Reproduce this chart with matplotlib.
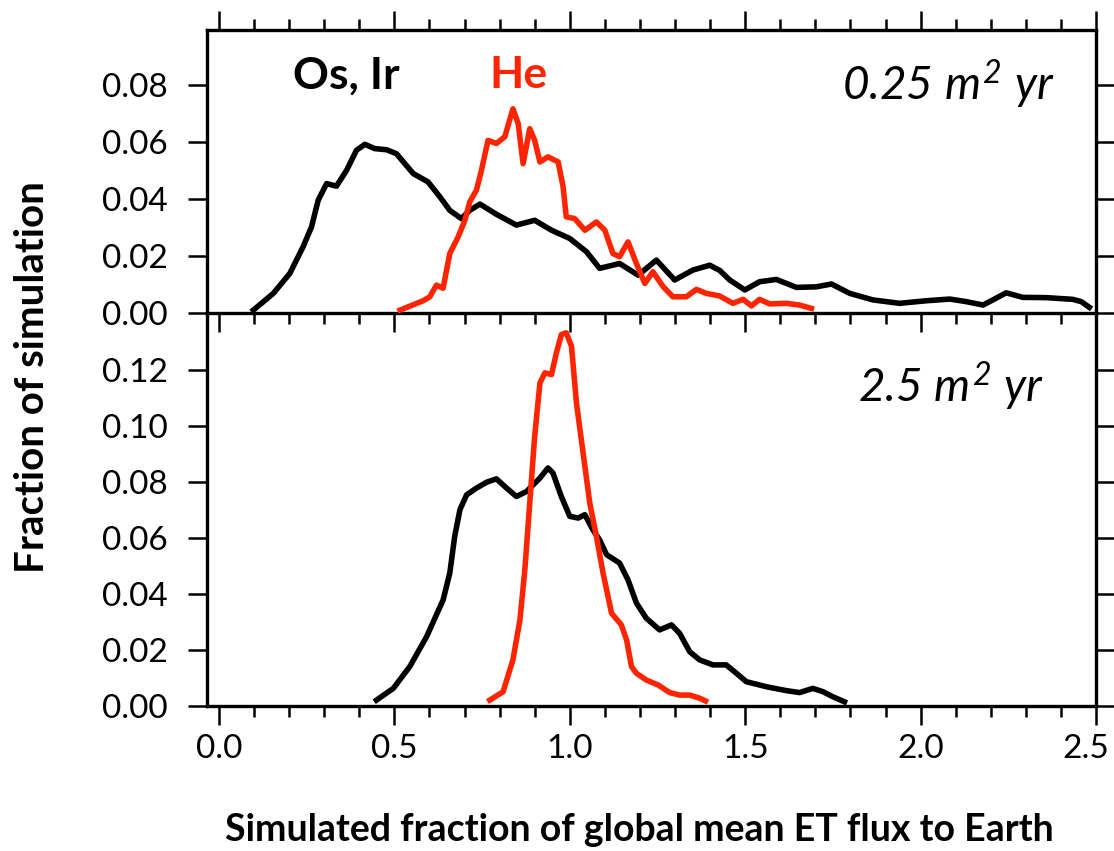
import matplotlib
matplotlib.use('Agg')
import matplotlib.pyplot as plt
import matplotlib.transforms as mtransforms
from matplotlib.ticker import MultipleLocator, FixedLocator, FormatStrFormatter

plt.rcParams['font.family'] = ['Lato', 'DejaVu Sans']
plt.rcParams['mathtext.fontset'] = 'custom'
plt.rcParams['mathtext.it'] = 'Lato:italic'
plt.rcParams['mathtext.rm'] = 'Lato:italic'

# ---------------- data ----------------
top_osir_x = [0.098, 0.155, 0.202, 0.240, 0.264, 0.283, 0.307, 0.335, 0.364, 0.392,
              0.416, 0.444, 0.478, 0.506, 0.530, 0.554, 0.596, 0.630, 0.658, 0.691,
              0.715, 0.744, 0.791, 0.848, 0.900, 0.948, 1.000, 1.048, 1.085, 1.142,
              1.195, 1.247, 1.299, 1.351, 1.399, 1.427, 1.456, 1.499, 1.541, 1.589,
              1.646, 1.703, 1.746, 1.798, 1.864, 1.940, 2.016, 2.083, 2.130, 2.178,
              2.206, 2.244, 2.291, 2.358, 2.434, 2.458, 2.481]
top_osir_y = [0.0010, 0.0069, 0.0139, 0.0233, 0.0303, 0.0397, 0.0455, 0.0446, 0.0502, 0.0572,
              0.0593, 0.0578, 0.0574, 0.0560, 0.0525, 0.0490, 0.0461, 0.0408, 0.0361, 0.0332,
              0.0361, 0.0383, 0.0347, 0.0309, 0.0326, 0.0291, 0.0262, 0.0215, 0.0157, 0.0174,
              0.0133, 0.0186, 0.0116, 0.0151, 0.0168, 0.0150, 0.0116, 0.0081, 0.0110, 0.0118,
              0.0090, 0.0092, 0.0102, 0.0069, 0.0046, 0.0034, 0.0043, 0.0049, 0.0040, 0.0028,
              0.0046, 0.0071, 0.0055, 0.0054, 0.0048, 0.0040, 0.0020]

top_he_x = [0.516, 0.582, 0.601, 0.620, 0.639, 0.658, 0.682, 0.701, 0.715, 0.734,
            0.748, 0.767, 0.791, 0.815, 0.838, 0.853, 0.867, 0.886, 0.900, 0.915,
            0.938, 0.967, 0.981, 0.990, 1.014, 1.043, 1.076, 1.100, 1.123, 1.142,
            1.166, 1.190, 1.214, 1.237, 1.266, 1.294, 1.332, 1.361, 1.389, 1.427,
            1.465, 1.494, 1.518, 1.541, 1.570, 1.617, 1.655, 1.689]
top_he_y = [0.0010, 0.0043, 0.0057, 0.0098, 0.0087, 0.0209, 0.0268, 0.0326, 0.0391, 0.0432,
            0.0500, 0.0607, 0.0596, 0.0620, 0.0718, 0.0666, 0.0525, 0.0648, 0.0607, 0.0531,
            0.0549, 0.0531, 0.0444, 0.0338, 0.0332, 0.0291, 0.0320, 0.0291, 0.0209, 0.0198,
            0.0250, 0.0174, 0.0104, 0.0145, 0.0093, 0.0057, 0.0057, 0.0083, 0.0069, 0.0060,
            0.0034, 0.0048, 0.0025, 0.0048, 0.0032, 0.0034, 0.0028, 0.0016]

bot_osir_x = [0.449, 0.497, 0.544, 0.592, 0.639, 0.658, 0.672, 0.687, 0.706, 0.734,
              0.763, 0.791, 0.820, 0.848, 0.877, 0.915, 0.938, 0.952, 0.976, 1.000,
              1.024, 1.043, 1.066, 1.085, 1.105, 1.142, 1.166, 1.190, 1.218, 1.256,
              1.290, 1.313, 1.342, 1.370, 1.408, 1.446, 1.475, 1.503, 1.560, 1.617,
              1.655, 1.693, 1.722, 1.750, 1.783]
bot_osir_y = [0.0021, 0.0063, 0.0141, 0.0248, 0.0379, 0.0475, 0.0606, 0.0702, 0.0755, 0.0779,
              0.0800, 0.0812, 0.0779, 0.0749, 0.0767, 0.0815, 0.0851, 0.0833, 0.0749, 0.0678,
              0.0672, 0.0684, 0.0630, 0.0594, 0.0541, 0.0511, 0.0451, 0.0368, 0.0314, 0.0272,
              0.0290, 0.0260, 0.0194, 0.0165, 0.0147, 0.0147, 0.0117, 0.0087, 0.0069, 0.0055,
              0.0048, 0.0063, 0.0051, 0.0033, 0.0015]

bot_he_x = [0.772, 0.810, 0.838, 0.858, 0.872, 0.886, 0.900, 0.915, 0.929, 0.948,
            0.962, 0.976, 0.990, 1.005, 1.019, 1.038, 1.057, 1.076, 1.095, 1.119,
            1.147, 1.162, 1.176, 1.190, 1.218, 1.252, 1.285, 1.313, 1.342, 1.370, 1.387]
bot_he_y = [0.0021, 0.0051, 0.0165, 0.0308, 0.0487, 0.0726, 0.0964, 0.1155, 0.1191, 0.1185,
            0.1263, 0.1328, 0.1334, 0.1286, 0.1084, 0.0905, 0.0726, 0.0606, 0.0475, 0.0332,
            0.0290, 0.0236, 0.0141, 0.0117, 0.0093, 0.0075, 0.0048, 0.0039, 0.0039, 0.0028, 0.0018]

x_ticks = [0.0, 0.5, 1.0, 1.5, 2.0, 2.5]
top_yticks = [0.00, 0.02, 0.04, 0.06, 0.08]
bot_yticks = [0.00, 0.02, 0.04, 0.06, 0.08, 0.10, 0.12]

BLACK = 'black'
RED = '#FF2400'

# ---------------- figure ----------------
W, H = 1114, 851
fig = plt.figure(figsize=(W / 100, H / 100), dpi=100)
L, R = 207, 1096
ax1 = fig.add_axes([L / W, 1 - 313 / H, (R - L) / W, (313 - 30) / H])
ax2 = fig.add_axes([L / W, 1 - 706 / H, (R - L) / W, (706 - 313) / H])

lw = 4.0
ax1.plot(top_osir_x, top_osir_y, color=BLACK, lw=lw, solid_joinstyle='round', zorder=3)
ax1.plot(top_he_x, top_he_y, color=RED, lw=lw, solid_joinstyle='round', zorder=4)
ax2.plot(bot_osir_x, bot_osir_y, color=BLACK, lw=lw, solid_joinstyle='round', zorder=3)
ax2.plot(bot_he_x, bot_he_y, color=RED, lw=lw, solid_joinstyle='round', zorder=4)

for ax in (ax1, ax2):
    ax.set_xlim(-0.034, 2.5)
    ax.xaxis.set_major_locator(FixedLocator(x_ticks))
    ax.xaxis.set_minor_locator(MultipleLocator(0.1))
    for s in ax.spines.values():
        s.set_linewidth(2.4)
    ax.tick_params(axis='both', which='major', length=14, width=1.8, direction='out',
                   labelsize=24)
    ax.tick_params(axis='x', which='minor', length=8, width=1.8, direction='out')
    ax.tick_params(axis='y', which='both', left=True, right=True, pad=14)
    ax.yaxis.set_major_formatter(FormatStrFormatter('%.2f'))
    ax.set_facecolor('none')

ax1.set_ylim(0, 0.0995)
ax1.set_yticks(top_yticks)
ax1.tick_params(axis='x', which='both', top=True, bottom=True,
                labelbottom=False, labeltop=False)

ax2.set_ylim(0, 0.1405)
ax2.set_yticks(bot_yticks)
ax2.xaxis.set_major_formatter(FormatStrFormatter('%.1f'))
ax2.tick_params(axis='x', which='both', top=False, bottom=True, pad=6)
ax2.spines['top'].set_visible(False)

# pull the last x tick label ("2.5") slightly inwards so it stays on the canvas
fig.canvas.draw()
last = ax2.get_xticklabels()[-1]
last.set_transform(last.get_transform() +
                   mtransforms.ScaledTranslation(-10 / 100, 0, fig.dpi_scale_trans))

# annotations
ax1.text(0.211, 0.079, 'Os, Ir', fontsize=32, fontweight='bold', color=BLACK,
         ha='left', va='baseline')
ax1.text(0.772, 0.079, 'He', fontsize=32, fontweight='bold', color=RED,
         ha='left', va='baseline')
ax1.text(2.382, 0.0748, r'$0.25\ m^{2}\ yr$', fontsize=33,
         ha='right', va='baseline')
ax2.text(2.353, 0.1088, r'$2.5\ m^{2}\ yr$', fontsize=33,
         ha='right', va='baseline')

fig.text(33 / W, 1 - 377 / H, 'Fraction of simulation', rotation=90,
         fontsize=29, fontweight='bold', ha='center', va='center')
fig.text(639 / W, 1 - 830 / H, 'Simulated fraction of global mean ET flux to Earth',
         fontsize=27, fontweight='bold', ha='center', va='center')

fig.savefig('out.png', dpi=100)
